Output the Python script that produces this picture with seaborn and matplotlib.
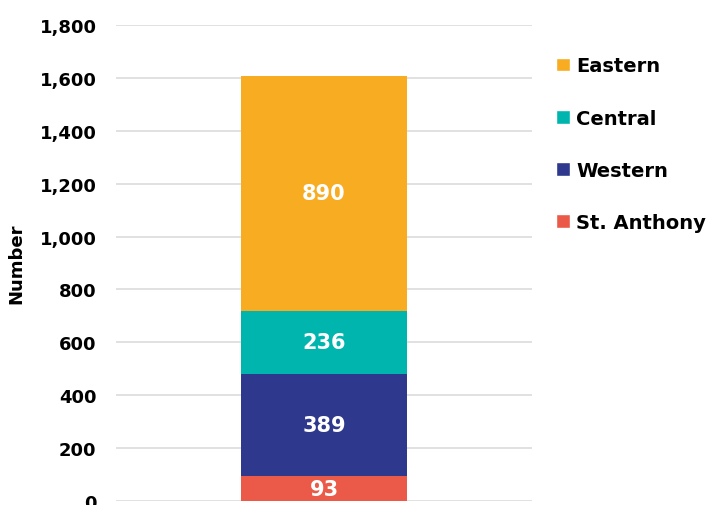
import matplotlib
matplotlib.use("Agg")
import matplotlib.pyplot as plt
import seaborn as sns
import pandas as pd
import numpy as np
from matplotlib.patches import Patch

# data (bottom to top)
regions = ["St. Anthony", "Western", "Central", "Eastern"]
values = [93, 389, 236, 890]
colors = ["#EB5A49", "#2E388D", "#00B5AD", "#F7AC22"]

sns.set_theme(style="white")
plt.rcParams["font.family"] = ["DejaVu Sans"]
plt.rcParams["font.weight"] = "bold"
plt.rcParams["text.color"] = "black"
plt.rcParams["ytick.color"] = "black"
plt.rcParams["axes.labelcolor"] = "black"

tops = np.cumsum(values)
bottoms = tops - np.array(values)
df = pd.DataFrame({"group": ["All"] * len(regions), "region": regions,
                   "top": tops, "bottom": bottoms, "value": values})

fig = plt.figure(figsize=(7.12, 5.06), dpi=100)
ax = fig.add_axes([0.163, 0.0079, 0.584, 0.9407])

# draw cumulative totals, tallest first so smaller ones sit on top
for i in reversed(range(len(regions))):
    sns.barplot(data=df.iloc[[i]], x="group", y="top", color=colors[i],
                width=0.4, saturation=1, linewidth=0, ax=ax, zorder=3)

for _, row in df.iterrows():
    ax.text(0, (row["top"] + row["bottom"]) / 2, f"{row['value']:,}",
            ha="center", va="center", color="white", fontsize=15,
            fontweight="bold", zorder=5)

ax.set_ylim(0, 1800)
ax.set_xlim(-0.5, 0.5)
ax.set_yticks(range(0, 1801, 200))
ax.yaxis.set_major_formatter(matplotlib.ticker.FuncFormatter(lambda v, p: f"{int(v):,}"))
ax.tick_params(axis="y", labelsize=13, length=0, pad=14)
for lab in ax.get_yticklabels():
    lab.set_fontweight("bold")
ax.set_xticks([])
ax.set_xlabel("")
ax.set_ylabel("Number", fontsize=13, fontweight="bold")
ax.yaxis.set_label_coords(-0.217, 0.5)
ax.grid(axis="y", color="#dedede", linewidth=1.3, zorder=0)
ax.set_axisbelow(True)
for s in ax.spines.values():
    s.set_visible(False)

handles = [Patch(facecolor=colors[i], label=regions[i]) for i in reversed(range(len(regions)))]
fig.legend(handles=handles, loc="upper left", bbox_to_anchor=(0.757, 0.921),
           frameon=False, handlelength=0.7, handleheight=0.7,
           handletextpad=0.3, labelspacing=1.7, prop={"weight": "bold", "size": 14})

fig.savefig("out.png", dpi=100)
